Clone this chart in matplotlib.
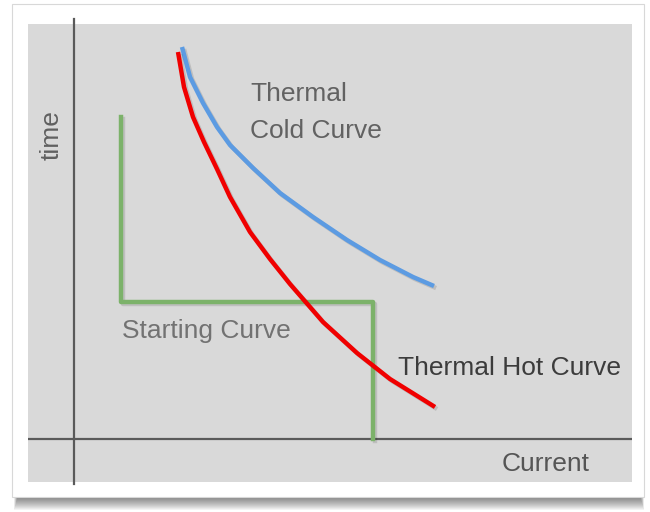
import matplotlib
matplotlib.use("Agg")
import matplotlib.pyplot as plt
import matplotlib.patheffects as pe
from matplotlib.patches import Rectangle

# curve points, in units from the axis crossing
cold_current = [108, 116, 129, 143, 156, 179, 206, 239, 273, 306, 339, 360]
cold_time = [392, 362, 336, 312, 294, 271, 246, 222, 199, 179, 162, 153]

hot_current = [104, 110, 119, 130, 143, 156, 176, 196, 216, 249, 283, 316, 361]
hot_time = [387, 352, 322, 297, 270, 242, 207, 180, 155, 117, 86, 60, 32]

start_current = [47, 47, 299, 299]
start_time = [322, 137, 137, 0]

plt.rcParams['font.family'] = ['Liberation Sans', 'DejaVu Sans']

fig = plt.figure(figsize=(6.5, 5.12), dpi=100)
fig.patch.set_facecolor('white')

# background layer in pixel coordinates (card + shadow)
bg = fig.add_axes([0, 0, 1, 1])
bg.set_xlim(0, 650)
bg.set_ylim(512, 0)
bg.axis('off')
for i in range(12):
    bg.add_patch(Rectangle((14 + i * 0.3, 6), 630 - i * 0.6, 492 + 12 - i,
                           facecolor='black', alpha=0.045, edgecolor='none'))
bg.add_patch(Rectangle((12, 4), 632, 493, facecolor='white', edgecolor='#d8d8d8', lw=0.8))

# chart panel
ax = fig.add_axes([28 / 650, 1 - 482 / 512, 604 / 650, 458 / 512])
ax.set_facecolor('#d9d9d9')
ax.set_xlim(-46, 558)
ax.set_ylim(-43, 415)
for s in ax.spines.values():
    s.set_visible(False)
ax.set_xticks([])
ax.set_yticks([])

ax.axhline(0, color='#5a5a5a', lw=1.6)
ax.plot([0, 0], [-45, 420], color='#5a5a5a', lw=1.6, clip_on=False)

shadow = [pe.SimpleLineShadow(offset=(1.5, -1.5), alpha=0.12, shadow_color='black'), pe.Normal()]
ax.plot(start_current, start_time, color='#7cb26a', lw=3.2, path_effects=shadow)
ax.plot(cold_current, cold_time, color='#5c9be2', lw=3.2, solid_capstyle='butt', path_effects=shadow)
ax.plot(hot_current, hot_time, color='#f00000', lw=3.2, solid_capstyle='butt', path_effects=shadow)

fs = 19
ax.text(176, 345, 'Thermal', fontsize=fs, color='#626262', va='center')
ax.text(176, 308, 'Cold Curve', fontsize=fs, color='#626262', va='center')
ax.text(48, 108, 'Starting Curve', fontsize=fs, color='#727272', va='center')
ax.text(324, 71, 'Thermal Hot Curve', fontsize=fs, color='#3c3c3c', va='center')
ax.text(428, -25, 'Current', fontsize=fs, color='#555555', va='center')
ax.text(-22, 304, 'time', fontsize=fs, color='#606060', va='center', ha='center', rotation=90)

fig.savefig('out.png', dpi=100)
